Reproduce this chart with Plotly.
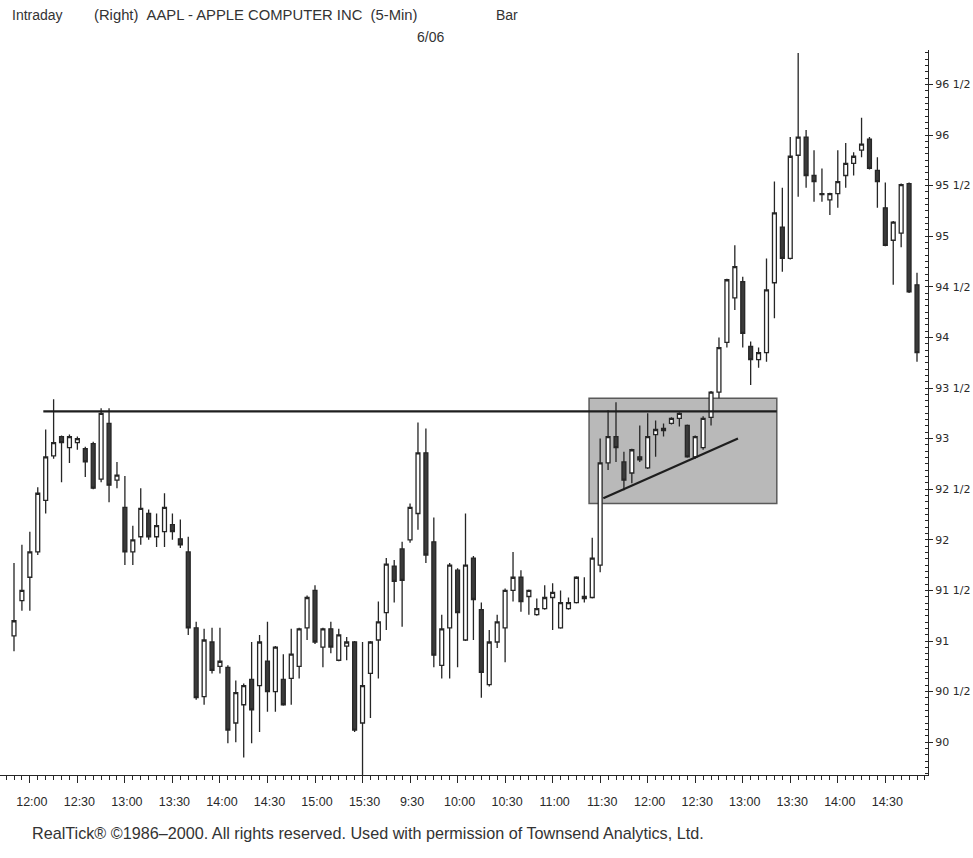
import plotly.graph_objects as go

# ---------------- data ----------------
opens = [91.05, 91.40, 91.63, 91.88, 92.39, 92.83, 93.02, 92.91, 92.96, 92.90,
         92.95, 92.60, 93.15, 92.59, 92.32, 91.88, 92.03, 92.26, 92.03, 92.08,
         92.15, 92.01, 91.88, 91.13, 90.45, 90.99, 90.75, 90.74, 90.19, 90.37,
         90.62, 90.56, 90.80, 90.50, 90.62, 90.63, 90.75, 91.13, 91.50, 90.94,
         91.12, 90.81, 90.95, 90.99, 90.19, 90.68, 91.01, 91.28, 91.74, 91.91,
         92.00, 92.26, 92.86, 91.98, 90.76, 91.13, 91.70, 91.01, 91.82, 91.31,
         90.57, 90.99, 91.13, 91.50, 91.63, 91.44, 91.26, 91.32, 91.43, 91.13,
         91.32, 91.38, 91.42, 91.43, 91.75, 92.76, 93.02, 92.77, 92.66, 92.82,
         92.71, 93.04, 93.08, 93.15, 93.20, 93.13, 92.82, 92.91, 93.21, 93.46,
         93.95, 94.39, 94.55, 93.91, 93.78, 93.85, 94.54, 95.09, 94.78, 95.80,
         95.98, 95.60, 95.41, 95.36, 95.42, 95.60, 95.72, 95.85, 95.96, 95.65,
         95.28, 94.96, 95.03, 95.52, 94.52]
highs = [91.77, 91.95, 92.08, 92.52, 93.09, 93.39, 93.03, 93.04, 93.02, 92.92,
         92.97, 93.30, 93.30, 92.77, 92.63, 92.14, 92.51, 92.30, 92.26, 92.46,
         92.26, 92.20, 92.03, 91.19, 91.12, 91.13, 91.13, 90.76, 90.61, 90.58,
         90.99, 91.06, 91.19, 90.95, 90.87, 91.12, 91.13, 91.45, 91.55, 91.13,
         91.19, 91.12, 91.04, 91.00, 90.99, 91.00, 91.39, 91.82, 91.80, 91.98,
         92.36, 93.16, 93.10, 92.22, 91.26, 91.77, 91.72, 92.26, 91.84, 91.38,
         91.11, 91.26, 91.52, 91.88, 91.70, 91.51, 91.42, 91.55, 91.57, 91.50,
         91.43, 91.64, 91.63, 92.02, 93.00, 93.28, 93.36, 92.87, 92.90, 93.13,
         93.25, 93.18, 93.15, 93.21, 93.26, 93.14, 93.03, 93.22, 93.47, 94.00,
         94.58, 94.91, 94.60, 93.96, 93.90, 94.78, 95.54, 95.48, 95.98, 96.81,
         96.05, 95.85, 95.67, 95.43, 95.85, 95.92, 95.83, 96.17, 95.98, 95.78,
         95.53, 95.15, 95.52, 95.53, 94.64]
lows = [90.90, 91.30, 91.30, 91.85, 92.26, 92.80, 92.57, 92.76, 92.89, 92.62,
        92.50, 92.57, 92.37, 92.51, 91.75, 91.75, 91.95, 92.00, 91.93, 91.93,
        92.00, 91.92, 91.06, 90.42, 90.37, 90.68, 90.68, 89.99, 90.00, 89.85,
        89.99, 90.10, 90.30, 90.30, 90.36, 90.37, 90.63, 91.01, 90.97, 90.74,
        90.88, 90.80, 90.81, 90.10, 89.60, 90.24, 90.63, 91.11, 91.38, 91.14,
        91.97, 92.10, 91.77, 90.74, 90.63, 90.63, 90.74, 91.00, 91.01, 90.44,
        90.55, 90.93, 90.79, 91.39, 91.29, 91.26, 91.25, 91.31, 91.11, 91.12,
        91.31, 91.37, 91.38, 91.42, 91.68, 92.69, 92.77, 92.49, 92.56, 92.77,
        92.70, 92.82, 93.02, 93.14, 93.12, 92.81, 92.80, 92.89, 93.13, 93.40,
        93.90, 94.27, 93.90, 93.53, 93.70, 93.76, 94.19, 94.65, 94.77, 95.39,
        95.48, 95.34, 95.34, 95.21, 95.28, 95.48, 95.60, 95.78, 95.66, 95.28,
        94.90, 94.52, 94.89, 94.44, 93.76]
closes = [91.20, 91.50, 91.88, 92.46, 92.82, 92.96, 92.96, 93.02, 93.00, 92.77,
          92.51, 93.25, 92.54, 92.64, 91.88, 92.00, 92.31, 92.03, 92.14, 92.32,
          92.08, 91.95, 91.13, 90.44, 91.01, 90.71, 90.80, 90.12, 90.49, 90.56,
          90.32, 90.99, 90.50, 90.94, 90.37, 90.87, 91.12, 91.43, 90.99, 91.12,
          90.94, 91.06, 90.99, 90.12, 90.56, 90.99, 91.19, 91.76, 91.59, 91.60,
          92.32, 92.86, 91.85, 90.86, 91.12, 91.75, 91.28, 91.75, 91.41, 90.69,
          90.99, 91.19, 91.50, 91.63, 91.39, 91.50, 91.32, 91.43, 91.48, 91.38,
          91.38, 91.63, 91.44, 91.82, 92.76, 93.02, 92.91, 92.59, 92.89, 92.79,
          93.02, 93.09, 93.10, 93.20, 93.25, 92.82, 93.02, 93.20, 93.46, 93.90,
          94.57, 94.70, 94.04, 93.78, 93.85, 94.47, 95.23, 94.78, 95.79, 95.98,
          95.60, 95.54, 95.42, 95.42, 95.54, 95.72, 95.79, 95.91, 95.67, 95.54,
          94.91, 95.14, 95.51, 94.45, 93.85]

# two sessions of 5-minute bars
day1_start = (11, 50)
day1_bars = 50
day2_start = (9, 30)
day2_bars = 65


def session(start, n):
    h, m = start
    out = []
    for _ in range(n):
        out.append(f"{h}:{m:02d}")
        m += 5
        if m >= 60:
            m -= 60
            h += 1
    return out


times = session(day1_start, day1_bars) + session(day2_start, day2_bars)
bar_index = list(range(len(times)))
label_index = [i for i, t in enumerate(times) if t.endswith(":00") or t.endswith(":30")]
label_text = [times[i] for i in label_index]

price_ticks = [90.0, 90.5, 91.0, 91.5, 92.0, 92.5, 93.0, 93.5, 94.0, 94.5, 95.0, 95.5, 96.0, 96.5]
price_labels = ["90", "90 1/2", "91", "91 1/2", "92", "92 1/2", "93", "93 1/2",
                "94", "94 1/2", "95", "95 1/2", "96", "96 1/2"]

# analyst drawings (bar-index / price coordinates)
resistance_price = 93.27
resistance_bars = [3.7, 96.3]
box_bars = [72.6, 96.3]
box_prices = [92.36, 93.40]
trend_bars = [74.4, 91.4]
trend_prices = [92.41, 93.00]

header_main = "(Right)\u00a0\u00a0AAPL - APPLE COMPUTER INC\u00a0\u00a0(5-Min)"
footer = "RealTick\u00ae \u00a91986\u20132000. All rights reserved. Used with permission of Townsend Analytics, Ltd."

# ---------------- figure ----------------
W, H = 973, 858
ML, MR, MT, MB = 0, 45, 50, 83
PW, PH = W - ML - MR, H - MT - MB

INK = "#262626"
SANS = "Liberation Sans, Arial, sans-serif"

fig = go.Figure()

fig.add_shape(type="rect", xref="x", yref="y",
              x0=box_bars[0], x1=box_bars[1], y0=box_prices[0], y1=box_prices[1],
              fillcolor="#b9b9b9", line=dict(color="#5a5a5a", width=1.5), layer="below")

fig.add_trace(go.Candlestick(
    x=bar_index, open=opens, high=highs, low=lows, close=closes,
    increasing=dict(line=dict(color=INK, width=1.3), fillcolor="white"),
    decreasing=dict(line=dict(color=INK, width=1.3), fillcolor="#3a3a3a"),
    whiskerwidth=0, showlegend=False, hoverinfo="skip",
))

fig.add_trace(go.Scatter(x=resistance_bars, y=[resistance_price, resistance_price],
                         mode="lines", line=dict(color="#1e1e1e", width=2.2),
                         showlegend=False, hoverinfo="skip"))
fig.add_trace(go.Scatter(x=trend_bars, y=trend_prices,
                         mode="lines", line=dict(color="#1e1e1e", width=2.2),
                         showlegend=False, hoverinfo="skip"))

# x range so bar 0 sits at px 14 and bar 114 at px 917
px_per_bar = (917 - 14) / 114
x0 = -14 / px_per_bar
x1 = x0 + PW / px_per_bar

fig.update_layout(
    width=W, height=H,
    margin=dict(l=ML, r=MR, t=MT, b=MB, pad=0),
    paper_bgcolor="white", plot_bgcolor="white",
    xaxis=dict(
        range=[x0, x1], rangeslider=dict(visible=False),
        showgrid=False, zeroline=False,
        showline=True, linecolor=INK, linewidth=1.3,
        tickmode="array", tickvals=label_index, ticktext=label_text,
        ticks="outside", ticklen=7, tickcolor=INK, tickwidth=1,
        ticklabelshift=2, ticklabelstandoff=8,
        tickfont=dict(family=SANS, size=12.5, color="#2a2a2a"),
        minor=dict(tick0=0, dtick=1, ticks="outside", ticklen=4, tickcolor=INK, tickwidth=1),
    ),
    yaxis=dict(
        range=[89.676, 96.84], side="right",
        showgrid=False, zeroline=False,
        showline=True, linecolor=INK, linewidth=1.3,
        tickmode="array", tickvals=price_ticks, ticktext=price_labels,
        ticks="outside", ticklen=4, tickcolor=INK,
        tickfont=dict(family="DejaVu Sans, Liberation Sans, sans-serif", size=11, color="#2a2a2a"),
        minor=dict(dtick=0.0625, tick0=90, ticks="inside", ticklen=3, tickcolor=INK, tickwidth=1),
    ),
)


def px_x(px):
    return (px - ML) / PW


def px_y(py):
    return (H - MB - py) / PH


def text(px, py, s, size=13, fam=SANS, anchor="left"):
    fig.add_annotation(xref="paper", yref="paper", x=px_x(px), y=px_y(py), text=s,
                       showarrow=False, xanchor=anchor, yanchor="middle",
                       font=dict(family=fam, size=size, color="#333333"))


text(10, 15, "Intraday", size=14)
text(92, 15, header_main, size=14.8)
text(415, 37, "6/06", size=14)
text(494, 15, "Bar", size=14)
text(30, 833, footer, size=16.2)

fig.write_html("out.html", config={"displayModeBar": False},
               post_script="document.body.style.margin='0';document.body.style.overflow='hidden';")
